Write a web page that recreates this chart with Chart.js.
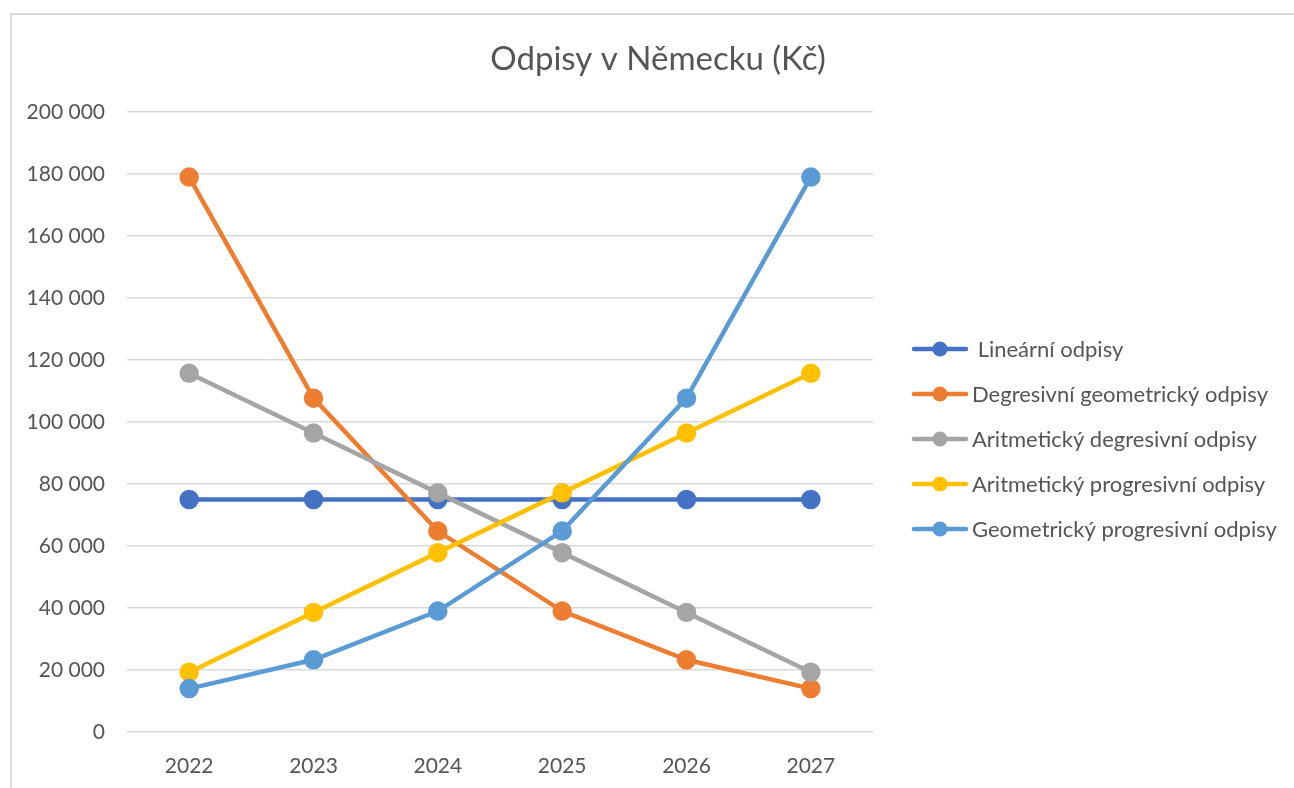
<!DOCTYPE html>
<html>
<head>
<meta charset="utf-8">
<script src="https://cdn.jsdelivr.net/npm/chart.js@4/dist/chart.umd.min.js"></script>
<style>
html,body{margin:0;padding:0;background:#fff;overflow:hidden;}
#wrap{position:absolute;left:0;top:0;width:1294px;height:788px;}
#frame{position:absolute;left:10px;top:13px;width:1300px;height:800px;border:2px solid #d9d9d9;box-sizing:border-box;}
canvas{position:absolute;left:0;top:0;}
</style>
</head>
<body>
<div id="wrap"><div id="frame"></div><canvas id="c" width="1294" height="788"></canvas></div>
<script>
const title = "Odpisy v Německu (Kč)";
const years = ["2022","2023","2024","2025","2026","2027"];
const seriesNames = [" Lineární odpisy","Degresivní geometrický odpisy","Aritmetický degresivní odpisy","Aritmetický progresivní odpisy","Geometrický progresivní odpisy"];
const linear = [75000,75000,75000,75000,75000,75000];
const degGeom = [179000,107700,64800,39000,23300,14000];
const aritDeg = [115714,96429,77143,57857,38571,19286];
const aritProg = [19286,38571,57857,77143,96429,115714];
const geomProg = [14000,23300,39000,64800,107700,179000];
const colors = ["#4472C4","#ED7D31","#A5A5A5","#FFC000","#5B9BD5"];
const yTicks = [0,20000,40000,60000,80000,100000,120000,140000,160000,180000,200000];

const FONT = "Lato, 'Open Sans', sans-serif";
const allData = [linear, degGeom, aritDeg, aritProg, geomProg];

const datasets = allData.map((d,i)=>({
  label: seriesNames[i],
  data: d,
  borderColor: colors[i],
  backgroundColor: colors[i],
  pointBackgroundColor: colors[i],
  pointBorderColor: colors[i],
  borderWidth: 4.5,
  pointRadius: 7.5,
  pointHoverRadius: 7.5,
  tension: 0,
  order: 10 - i
}));

function fmt(v){ return String(v).replace(/\B(?=(\d{3})+(?!\d))/g, ' '); }

const overlay = {
  id:'overlay',
  afterDraw(chart){
    const ctx = chart.ctx;
    ctx.save();
    ctx.fillStyle = '#555555';
    ctx.font = "33px " + FONT;
    ctx.textAlign = 'center';
    ctx.textBaseline = 'middle';
    ctx.fillText(title, 658, 59);
    // legend
    ctx.font = "22px " + FONT;
    ctx.textAlign = 'left';
    seriesNames.forEach((n,i)=>{
      const y = 349 + i*45;
      ctx.strokeStyle = colors[i];
      ctx.lineWidth = 4.5;
      ctx.lineCap = 'round';
      ctx.beginPath(); ctx.moveTo(914,y); ctx.lineTo(966,y); ctx.stroke();
      ctx.fillStyle = colors[i];
      ctx.beginPath(); ctx.arc(940,y,7.5,0,Math.PI*2); ctx.fill();
      ctx.fillStyle = '#555555';
      ctx.fillText(n, 972, y+1);
    });
    ctx.restore();
  }
};

new Chart(document.getElementById('c'), {
  type:'line',
  data:{labels:years, datasets},
  options:{
    responsive:false,
    animation:false,
    devicePixelRatio:1,
    layout:{padding:{left:0,top:112,right:1294-873,bottom:0}},
    plugins:{legend:{display:false},title:{display:false},tooltip:{enabled:false}},
    scales:{
      x:{
        offset:true,
        grid:{display:false, drawTicks:false},
        border:{display:false},
        ticks:{color:'#555555',font:{family:FONT,size:21},padding:22},
        afterFit(s){ s.height = 788-732; }
      },
      y:{
        min:0,max:200000,
        afterBuildTicks(s){ s.ticks = yTicks.map(v=>({value:v})); },
        grid:{color:'#d9d9d9',lineWidth:1.5,drawTicks:false},
        border:{display:false},
        ticks:{color:'#555555',font:{family:FONT,size:21},padding:22,callback:v=>fmt(v)},
        afterFit(s){ s.width = 127; }
      }
    }
  },
  plugins:[overlay]
});
</script>
</body>
</html>
